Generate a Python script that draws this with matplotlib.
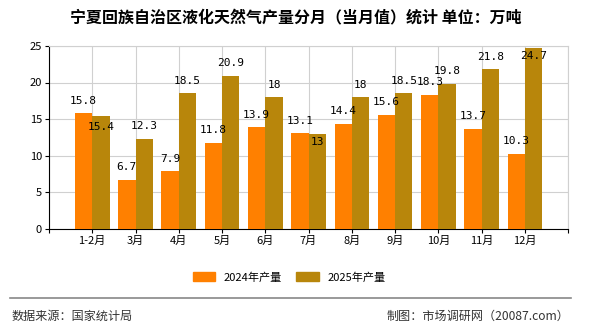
import numpy as np
import matplotlib
matplotlib.use('Agg')
import matplotlib.pyplot as plt
from matplotlib.patches import Patch

plt.rcParams['font.family'] = ['Noto Sans CJK SC', 'DejaVu Sans']

months = ['1-2月', '3月', '4月', '5月', '6月', '7月', '8月', '9月', '10月', '11月', '12月']
prod_2024 = [15.8, 6.7, 7.9, 11.8, 13.9, 13.1, 14.4, 15.6, 18.3, 13.7, 10.3]
prod_2025 = [15.4, 12.3, 18.5, 20.9, 18, 13, 18, 18.5, 19.8, 21.8, 24.7]
series_names = ['2024年产量', '2025年产量']

# label offsets in points (some 2025 labels sit under the bar top)
off_2025 = [-8, 9, 9, 9, 9, -6, 9, 9, 9, 9, -6]

c24 = '#FF8000'
c25 = '#B8860B'

fig = plt.figure(figsize=(5.9, 3.3), dpi=100)
ax = fig.add_axes([0.083, 0.306, 0.88, 0.555])

x = np.arange(len(months))
w = 0.4
ax.bar(x - w / 2, prod_2024, w, color=c24, zorder=3)
ax.bar(x + w / 2, prod_2025, w, color=c25, zorder=3)

lab = dict(ha='center', va='center', fontsize=8, family='DejaVu Sans Mono', zorder=4)
for i, v in enumerate(prod_2024):
    ax.annotate(f'{v:g}', (x[i] - w / 2, v), xytext=(0, 9), textcoords='offset points', **lab)
for i, v in enumerate(prod_2025):
    ax.annotate(f'{v:g}', (x[i] + w / 2, v), xytext=(0, off_2025[i]), textcoords='offset points', **lab)

ax.set_xlim(-1, 11)
ax.set_ylim(0, 25)
ax.set_yticks(range(0, 26, 5))
ax.set_xticks(range(-1, 12))
ax.set_xticklabels([''] + months + [''])
ax.tick_params(labelsize=8, length=3, pad=2)
ax.grid(True, color='#d0d0d0', lw=0.8, zorder=0)
for s in ['top', 'right']:
    ax.spines[s].set_color('#d0d0d0')
for s in ['left', 'bottom']:
    ax.spines[s].set_color('black')

fig.text(0.502, 0.948, '宁夏回族自治区液化天然气产量分月（当月值）统计 单位：万吨',
         ha='center', va='center', fontsize=11.5, fontweight='bold')

handles = [Patch(color=c24), Patch(color=c25)]
fig.legend(handles, series_names, loc='center', bbox_to_anchor=(0.49, 0.16), ncol=2,
           frameon=False, fontsize=8, handlelength=2, handleheight=0.8, columnspacing=1.3)

fig.add_artist(plt.Line2D([0.017, 0.968], [0.098, 0.098], color='#888888', lw=1.2))
fig.text(0.02, 0.042, '数据来源：国家统计局', ha='left', va='center', fontsize=8.7, color='#333333')
fig.text(0.965, 0.042, '制图：市场调研网（20087.com）', ha='right', va='center', fontsize=8.7, color='#333333')

fig.savefig('out.png', dpi=100)
